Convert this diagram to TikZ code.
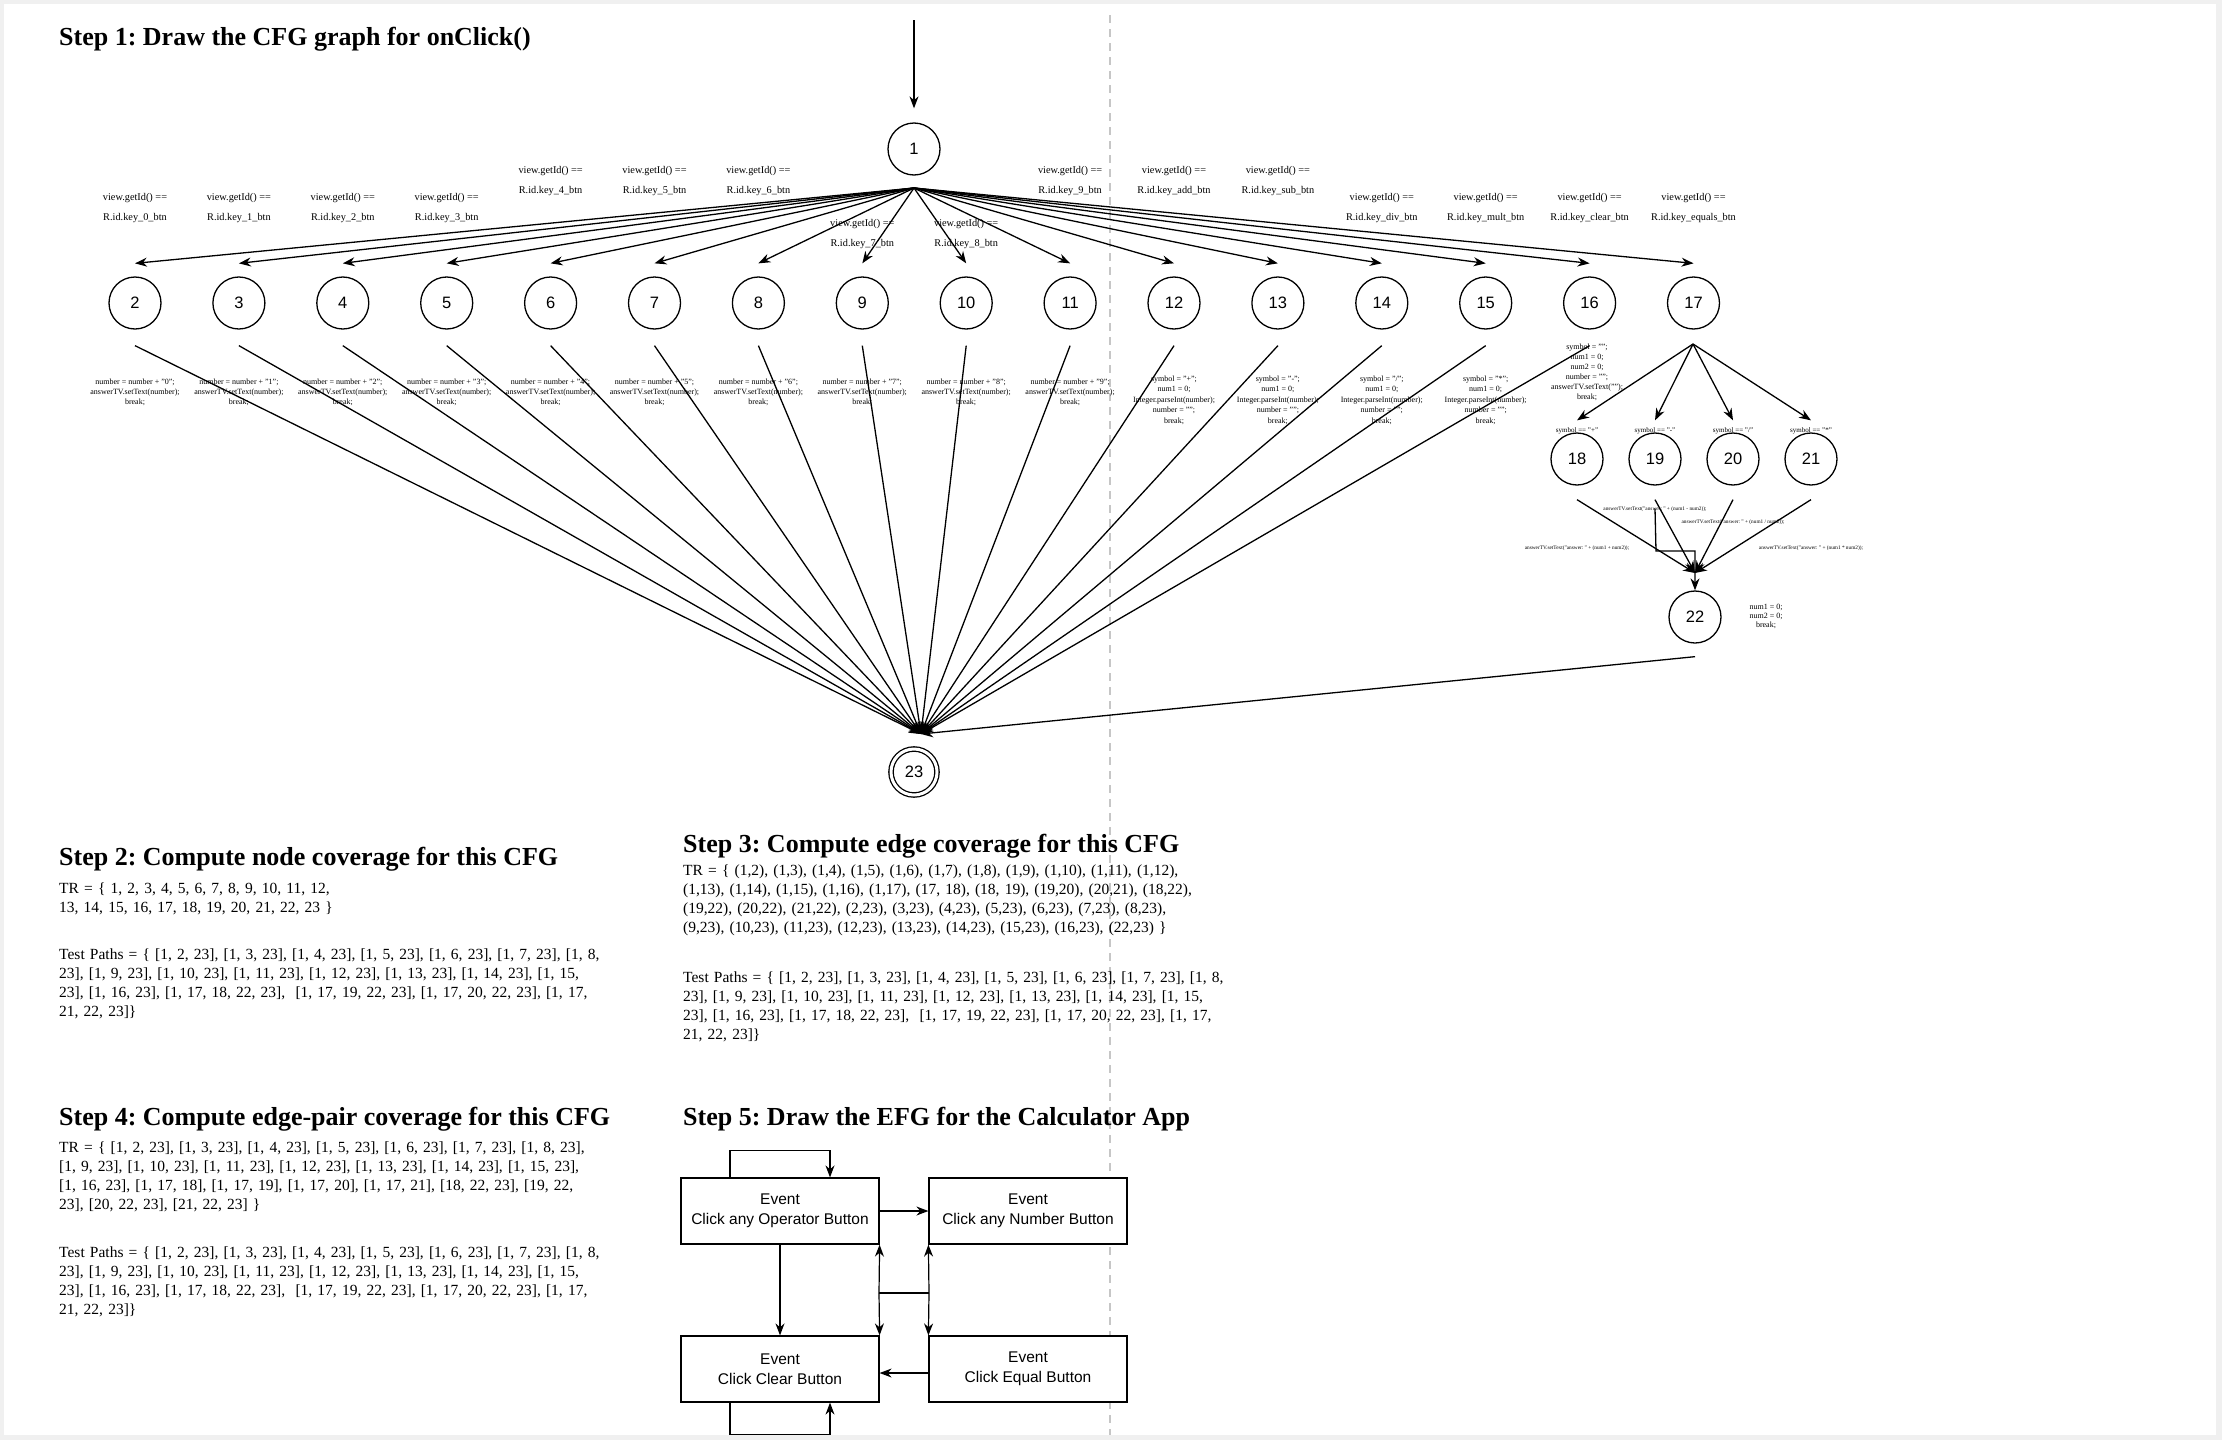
\documentclass[tikz,border=0pt]{standalone}
\usepackage{fontspec}
\setmainfont{Liberation Serif}
\newfontfamily\sansf{Liberation Sans}
\usetikzlibrary{arrows.meta}
\frenchspacing

\newcommand{\testpaths}{Test Paths = \{ [1, 2, 23], [1, 3, 23], [1, 4, 23], [1, 5, 23], [1, 6, 23], [1, 7, 23], [1, 8,\\
23], [1, 9, 23], [1, 10, 23], [1, 11, 23], [1, 12, 23], [1, 13, 23], [1, 14, 23], [1, 15,\\
23], [1, 16, 23], [1, 17, 18, 22, 23], \ [1, 17, 19, 22, 23], [1, 17, 20, 22, 23], [1, 17,\\
21, 22, 23]\}}

\begin{document}
\begin{tikzpicture}[x=1pt, y=-1pt,
  cfgnode/.style={circle, draw, line width=1.3pt, minimum size=52pt, inner sep=0pt, font=\sansf\fontsize{16.5}{16}\selectfont},
  edge/.style={line width=1.3pt, -{Stealth[length=12pt,width=9pt]}},
  getid/.style={font=\fontsize{10.3}{20}\selectfont, align=center, inner sep=0pt},
  stmt/.style={font=\fontsize{8}{10}\selectfont, align=center, inner sep=0pt},
  tinystmt/.style={font=\fontsize{5.3}{6}\selectfont, inner sep=0pt},
  steptitle/.style={font=\bfseries\fontsize{26}{30}\selectfont, anchor=base west, inner sep=0pt},
  steptext/.style={font=\fontsize{15.5}{19}\selectfont, anchor=base west, inner sep=0pt, text width=570pt, align=left},
  evbox/.style={draw, line width=1.2pt, fill=white, minimum width=198pt, minimum height=66pt, align=center, font=\sansf\fontsize{15.5}{20}\selectfont},
  efg/.style={line width=1.2pt, -{Stealth[length=12pt,width=9pt]}}
]
\useasboundingbox (0,0) rectangle (2222,1440);
\fill[gray!12] (0,0) rectangle (2222,1440);
\fill[white] (4,4) rectangle (2216,1435);
\draw[gray!45, line width=1.3pt, dash pattern=on 8pt off 6pt] (1110,15) -- (1110,1435);

% Step 1
\node[steptitle] (t1) at (59,45) {Step 1: Draw the CFG graph for onClick()};

\node[cfgnode] (n1) at (914,149) {1};
\foreach \i in {2,...,17}
  \node[cfgnode] (n\i) at ({135+103.9*(\i-2)},303) {\i};
\foreach \i in {18,...,21}
  \node[cfgnode] (n\i) at ({1577+78*(\i-18)},459) {\i};
\node[cfgnode] (n22) at (1695,617) {22};
\node[cfgnode, minimum size=46pt, double, double distance=3pt] (n23) at (914,772) {23};

\coordinate (in) at (914,20);
\coordinate (f1) at (914,188);
\coordinate (s17) at (1693,344);
\coordinate (c22) at (1695,573);
\coordinate (b19) at (1656,551);
\coordinate (c23) at (921,734);

\draw[edge, shorten >=14pt] (in) -- (n1);
\foreach \i in {2,...,17}
  \draw[edge] (f1) -- ([yshift=13pt]n\i.north);
\foreach \i in {2,...,16}
  \draw[edge] ([yshift=-16pt]n\i.south) -- (c23);
\foreach \i in {18,...,21} {
  \draw[edge] (s17) -- ([yshift=12pt]n\i.north);
  \draw[edge] ([yshift=-14pt]n\i.south) -- (c22);
}
\draw[edge] ([yshift=-23pt]n19.south) -- (b19) -| (n22.north);
\draw[edge] ([yshift=-13pt]n22.south) -- (c23);

% edge labels
\foreach \i/\key/\ly in {2/0/208, 3/1/208, 4/2/208, 5/3/208, 6/4/181, 7/5/181, 8/6/181, 9/7/234,
    10/8/234, 11/9/181, 12/add/181, 13/sub/181, 14/div/208, 15/mult/208, 16/clear/208, 17/equals/208}
  \node[getid] (g\i) at ({135+103.9*(\i-2)},\ly) {view.getId() ==\\R.id.key\_\key\_btn};
\foreach \d in {0,...,9}
  \node[stmt] (a\d) at ({135+103.9*\d},392) {number = number + "\d";\\answerTV.setText(number);\\break;};
\foreach \i/\op in {12/+,13/-,14/{/},15/*}
  \node[stmt, font=\fontsize{8}{10.5}\selectfont] (a\i) at ({135+103.9*(\i-2)},400)
    {symbol = "\op";\\num1 = 0;\\Integer.parseInt(number);\\number = "";\\break;};
\node[stmt] (a16) at (1587,372) {symbol = "";\\num1 = 0;\\num2 = 0;\\number = "";\\answerTV.setText("");\\break;};
\foreach \i/\op in {18/+,19/-,20/{/},21/*}
  \node[stmt, font=\fontsize{7}{8}\selectfont] (q\i) at (n\i |- 0,431) {symbol == "\op"};
\node[tinystmt] (r19) at (1655,509) {answerTV.setText("answer: " + (num1 - num2));};
\node[tinystmt] (r20) at (1733,522) {answerTV.setText("answer: " + (num1 / num2));};
\node[tinystmt] (r18) at (1577,548) {answerTV.setText("answer: " + (num1 + num2));};
\node[tinystmt] (r21) at (1811,548) {answerTV.setText("answer: " + (num1 * num2));};
\node[stmt, font=\fontsize{8}{9}\selectfont] (r22) at (1766,616) {num1 = 0;\\num2 = 0;\\break;};

% Step 2
\node[steptitle] (t2) at (59,865) {Step 2: Compute node coverage for this CFG};
\node[steptext] (tr2) at (59,893) {TR = \{ 1, 2, 3, 4, 5, 6, 7, 8, 9, 10, 11, 12,\\
13, 14, 15, 16, 17, 18, 19, 20, 21, 22, 23 \}};
\node[steptext] (tp2) at (59,959) {\testpaths};

% Step 3
\node[steptitle] (t3) at (683,852) {Step 3: Compute edge coverage for this CFG};
\node[steptext] (tr3) at (683,875) {TR = \{ (1,2), (1,3), (1,4), (1,5), (1,6), (1,7), (1,8), (1,9), (1,10), (1,11), (1,12),\\
(1,13), (1,14), (1,15), (1,16), (1,17), (17, 18), (18, 19), (19,20), (20,21), (18,22),\\
(19,22), (20,22), (21,22), (2,23), (3,23), (4,23), (5,23), (6,23), (7,23), (8,23),\\
(9,23), (10,23), (11,23), (12,23), (13,23), (14,23), (15,23), (16,23), (22,23) \}};
\node[steptext] (tp3) at (683,982) {\testpaths};

% Step 4
\node[steptitle] (t4) at (59,1125) {Step 4: Compute edge-pair coverage for this CFG};
\node[steptext] (tr4) at (59,1152) {TR = \{ [1, 2, 23], [1, 3, 23], [1, 4, 23], [1, 5, 23], [1, 6, 23], [1, 7, 23], [1, 8, 23],\\\relax
[1, 9, 23], [1, 10, 23], [1, 11, 23], [1, 12, 23], [1, 13, 23], [1, 14, 23], [1, 15, 23],\\\relax
[1, 16, 23], [1, 17, 18], [1, 17, 19], [1, 17, 20], [1, 17, 21], [18, 22, 23], [19, 22,\\
23], [20, 22, 23], [21, 22, 23] \}};
\node[steptext] (tp4) at (59,1257) {\testpaths};

% Step 5
\node[steptitle] (t5) at (683,1125) {Step 5: Draw the EFG for the Calculator App};
\node[evbox] (op) at (780,1211) {Event\\Click any Operator Button};
\node[evbox] (num) at (1028,1211) {Event\\Click any Number Button};
\node[evbox] (clr) at (780,1369) {Event\\Click Clear Button};
\node[evbox] (eq) at (1028,1369) {Event\\Click Equal Button};
\coordinate (jl) at (879,1293);
\coordinate (jr) at (929,1293);

\draw[efg] ([xshift=-50pt]op.north) -- ++(0,-27) -| ([xshift=50pt]op.north);
\draw[efg] (op.east) -- (num.west);
\draw[efg] (op.south) -- (clr.north);
\draw[efg] ([xshift=-50pt]clr.south) -- ++(0,32) -| ([xshift=50pt]clr.south);
\draw[efg] (eq.west |- 0,1373) -- (clr.east |- 0,1373);
\draw[line width=1.2pt] (jl) -- (jr);
\draw[efg] (jl) -- (op.south east);
\draw[efg] (jl) -- (clr.north east);
\draw[efg] (jr) -- (num.south west);
\draw[efg] (jr) -- (eq.north west);
\end{tikzpicture}
\end{document}
